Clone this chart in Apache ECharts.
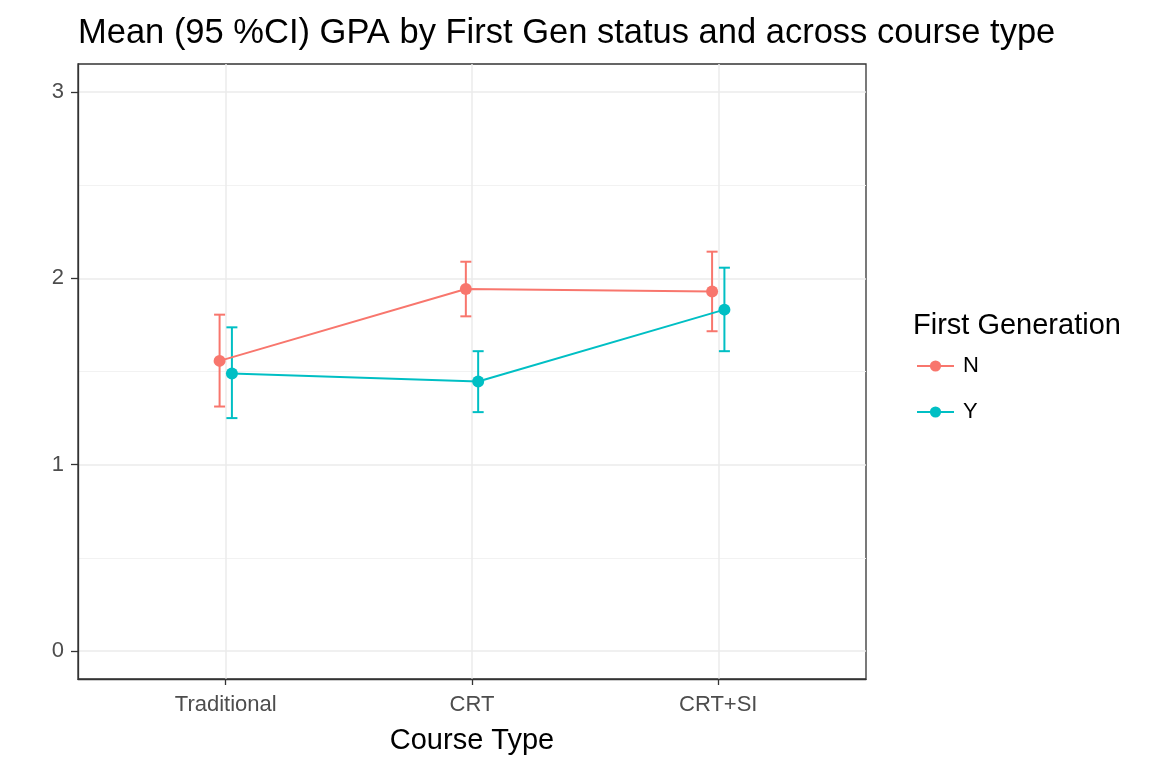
<!DOCTYPE html>
<html>
<head>
<meta charset="utf-8">
<script src="https://cdn.jsdelivr.net/npm/echarts@6/dist/echarts.min.js"></script>
<style>html,body{margin:0;padding:0;background:#fff}#c{width:1152px;height:768px}</style>
</head>
<body>
<div id="c"></div>
<script>
const categories = ['Traditional', 'CRT', 'CRT+SI'];
const groups = ['N', 'Y'];
const meanN = [1.557, 1.943, 1.929];
const lowerN = [1.312, 1.796, 1.716];
const upperN = [1.805, 2.089, 2.143];
const meanY = [1.489, 1.446, 1.832];
const lowerY = [1.250, 1.282, 1.609];
const upperY = [1.737, 1.609, 2.057];
const yTicks = [0, 1, 2, 3];
const yMinorTicks = [0.5, 1.5, 2.5];
const xTicks = [1, 2, 3];
const dodge = 0.025;
const colors = { N: '#F8766D', Y: '#00BFC4' };
const FONT = "'Liberation Sans', Arial, sans-serif";

const stats = {
  N: { mean: meanN, lower: lowerN, upper: upperN, off: -dodge },
  Y: { mean: meanY, lower: lowerY, upper: upperY, off: dodge }
};

const series = [];
groups.forEach(g => {
  const s = stats[g];
  series.push({
    name: g,
    type: 'line',
    data: categories.map((c, i) => [i + 1 + s.off, s.mean[i]]),
    symbol: 'circle',
    symbolSize: 12,
    color: colors[g],
    lineStyle: { width: 2, color: colors[g] },
    itemStyle: { color: colors[g] },
    z: 3,
    animation: false
  });
});
groups.forEach(g => {
  const s = stats[g];
  series.push({
    name: g + ' CI',
    type: 'custom',
    data: categories.map((c, i) => [i + 1 + s.off, s.lower[i], s.upper[i]]),
    renderItem: function (params, api) {
      const x = api.value(0);
      const lo = api.coord([x, api.value(1)]);
      const hi = api.coord([x, api.value(2)]);
      const hw = 5.5;
      const st = { stroke: colors[g], lineWidth: 2 };
      return {
        type: 'group',
        children: [
          { type: 'line', shape: { x1: lo[0], y1: lo[1], x2: hi[0], y2: hi[1] }, style: st },
          { type: 'line', shape: { x1: lo[0] - hw, y1: lo[1], x2: lo[0] + hw, y2: lo[1] }, style: st },
          { type: 'line', shape: { x1: hi[0] - hw, y1: hi[1], x2: hi[0] + hw, y2: hi[1] }, style: st }
        ]
      };
    },
    z: 2,
    animation: false
  });
});

const chart = echarts.init(document.getElementById('c'), null, { renderer: 'canvas' });
chart.setOption({
  backgroundColor: '#ffffff',
  animation: false,
  textStyle: { fontFamily: FONT },
  title: [
    {
      text: 'Mean (95 %CI) GPA by First Gen status and across course type',
      left: 73, top: 11,
      textStyle: { fontFamily: FONT, fontSize: 34.5, fontWeight: 'normal', color: '#000' }
    },
    {
      text: 'First Generation',
      left: 908, top: 306,
      textStyle: { fontFamily: FONT, fontSize: 29, fontWeight: 'normal', color: '#000' }
    }
  ],
  legend: {
    data: groups,
    orient: 'vertical',
    left: 916, top: 355,
    padding: 0,
    itemWidth: 37, itemHeight: 14,
    itemGap: 24,
    textStyle: { fontFamily: FONT, fontSize: 22, lineHeight: 22, color: '#000', padding: [0, 0, 0, 4] }
  },
  grid: {
    left: 78, right: 286, top: 64, bottom: 89,
    show: true, borderColor: '#333333', borderWidth: 1.3, backgroundColor: 'transparent'
  },
  xAxis: {
    type: 'value',
    min: 0.4, max: 3.6,
    name: 'Course Type',
    nameLocation: 'middle',
    nameGap: 47,
    nameTextStyle: { fontFamily: FONT, fontSize: 29, color: '#000' },
    axisLine: { show: true, onZero: false, lineStyle: { color: '#333333', width: 1.3 } },
    axisTick: { show: true, customValues: xTicks, length: 6, lineStyle: { color: '#333333', width: 1.3 } },
    axisLabel: {
      customValues: xTicks,
      formatter: v => categories[Math.round(v) - 1],
      fontFamily: FONT, fontSize: 22, color: '#4D4D4D', margin: 15
    },
    splitLine: { show: true, lineStyle: { color: '#EBEBEB', width: 1.5 } }
  },
  yAxis: [
    {
      type: 'value',
      min: -0.15, max: 3.15,
      axisLine: { show: true, onZero: false, lineStyle: { color: '#333333', width: 1.3 } },
      axisTick: { show: true, customValues: yTicks, length: 7, lineStyle: { color: '#333333', width: 1.3 } },
      axisLabel: {
        customValues: yTicks,
        fontFamily: FONT, fontSize: 22, color: '#4D4D4D', margin: 14
      },
      splitLine: { show: true, lineStyle: { color: '#EBEBEB', width: 1.5 } }
    },
    {
      type: 'value',
      min: -0.15, max: 3.15,
      position: 'left',
      axisLine: { show: false },
      axisTick: { show: false, customValues: yMinorTicks },
      axisLabel: { show: false, customValues: yMinorTicks },
      splitLine: { show: true, lineStyle: { color: '#F2F2F2', width: 1 } }
    }
  ],
  series: series
});
</script>
</body>
</html>
